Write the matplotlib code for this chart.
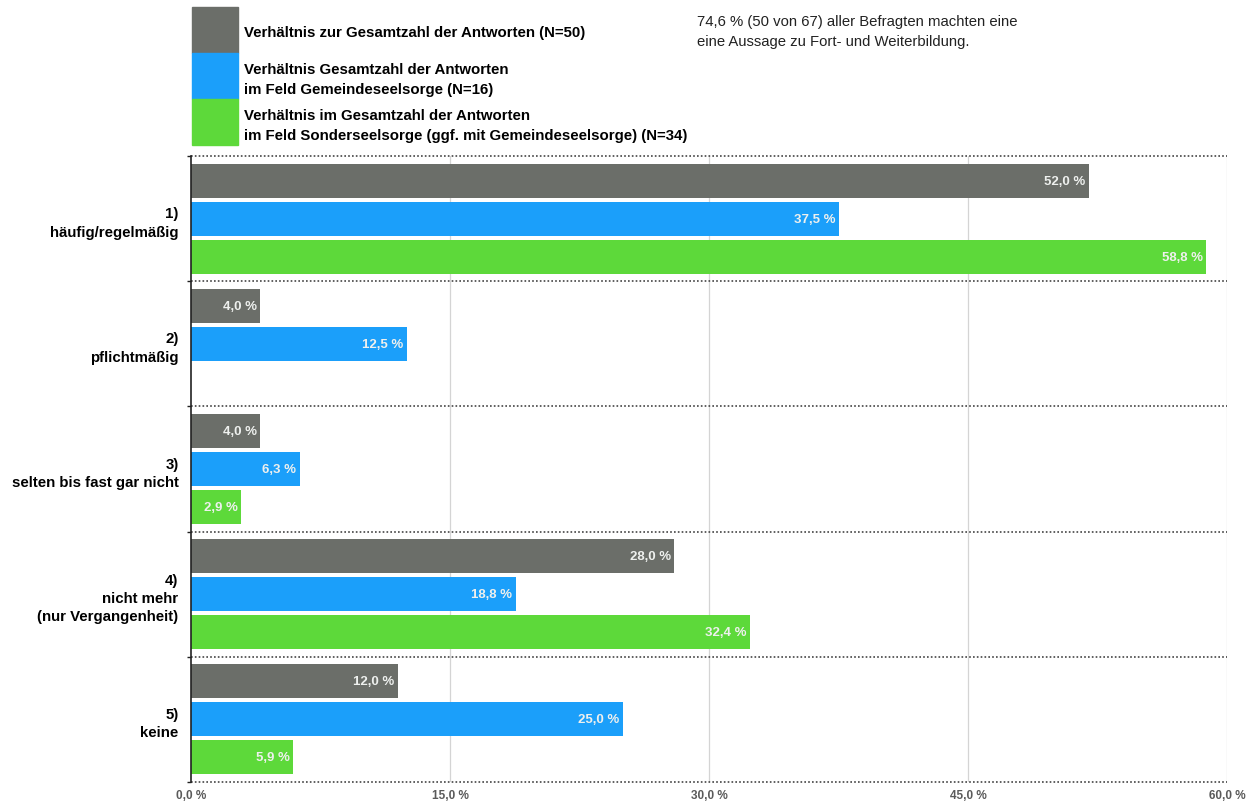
import matplotlib
matplotlib.use("Agg")
import matplotlib.pyplot as plt
from matplotlib.patches import Rectangle
import numpy as np

plt.rcParams['font.family'] = ['Liberation Sans', 'DejaVu Sans']

categories = ["1)\nhäufig/regelmäßig", "2)\npflichtmäßig", "3)\nselten bis fast gar nicht",
              "4)\nnicht mehr\n(nur Vergangenheit)", "5)\nkeine"]
series_names = ["Verhältnis zur Gesamtzahl der Antworten (N=50)",
                "Verhältnis Gesamtzahl der Antworten\nim Feld Gemeindeseelsorge (N=16)",
                "Verhältnis im Gesamtzahl der Antworten\nim Feld Sonderseelsorge (ggf. mit Gemeindeseelsorge) (N=34)"]
total_vals = [52.0, 4.0, 4.0, 28.0, 12.0]
gemeinde_vals = [37.5, 12.5, 6.3, 18.8, 25.0]
sonder_vals = [58.8, np.nan, 2.9, 32.4, 5.9]
x_ticks = [0, 15, 30, 45, 60]
x_tick_labels = ["0,0 %", "15,0 %", "30,0 %", "45,0 %", "60,0 %"]
note = "74,6 % (50 von 67) aller Befragten machten eine\neine Aussage zu Fort- und Weiterbildung."

colors = ["#6b6e69", "#1b9ffa", "#5dd93a"]

W, H = 1253, 803
fig = plt.figure(figsize=(W/100, H/100), dpi=100)
ax = fig.add_axes([191/W, 1-783/H, (1227-191)/W, (783-157)/H])

n = len(categories)
centers = np.arange(n) + 0.5
offsets = [-0.303, 0.0, 0.303]
bar_h = 0.272
for vals, off, col in zip([total_vals, gemeinde_vals, sonder_vals], offsets, colors):
    vals = np.array(vals, dtype=float)
    mask = ~np.isnan(vals)
    ax.barh(centers[mask] + off, vals[mask], height=bar_h, color=col, zorder=3)
    for y, v in zip(centers[mask] + off, vals[mask]):
        ax.text(v - 0.2, y, f"{v:.1f} %".replace('.', ','), ha='right', va='center',
                color='#eef0ee', fontsize=9.5, fontweight='bold', zorder=4)

ax.set_xlim(0, 60)
ax.set_ylim(n, 0)
for s in ['top', 'right', 'bottom']:
    ax.spines[s].set_visible(False)
ax.spines['left'].set_color('#222222')
ax.spines['left'].set_linewidth(1.2)
ax.spines['left'].set_zorder(5)

# vertical gridlines
for xt in x_ticks[1:]:
    ax.axvline(xt, color='#d4d4d4', lw=0.9, zorder=1)
# dotted separators
for yb in range(n + 1):
    ax.axhline(yb, color='#444444', lw=1.2, ls=(0, (1, 1.3)), zorder=2, clip_on=False)

ax.set_xticks(x_ticks)
ax.set_xticklabels(x_tick_labels, fontsize=8.5, color='#5a5a5a', fontweight='bold')
ax.tick_params(axis='x', length=0, pad=5)

ax.set_yticks(np.arange(n + 1))
ax.set_yticklabels([])
ax.tick_params(axis='y', which='major', length=3, width=1, color='#222222', direction='out')
ax.set_yticks(centers, minor=True)
ax.set_yticklabels(categories, minor=True, fontsize=10.8, fontweight='bold', ha='right',
                   linespacing=1.4)
ax.tick_params(axis='y', which='minor', length=0, pad=9)

# legend
lx0, lw_ = 192, 46
ly = [8, 54, 100]
lh = [46, 46, 46]
for i, (y0, h, col, name) in enumerate(zip(ly, lh, colors, series_names)):
    fig.add_artist(Rectangle((lx0/W, 1-(y0+h)/H), lw_/W, h/H, transform=fig.transFigure,
                             color=col))
    dy = 2 if i == 0 else 3
    fig.text(244/W, 1-(y0+h/2+dy)/H, name, ha='left', va='center', fontsize=10.8,
             fontweight='bold', linespacing=1.5)

fig.text(697/W, 1-32/H, note, ha='left', va='center', fontsize=10.7, color='#222222',
         linespacing=1.55)

fig.savefig("out.png", dpi=100)
